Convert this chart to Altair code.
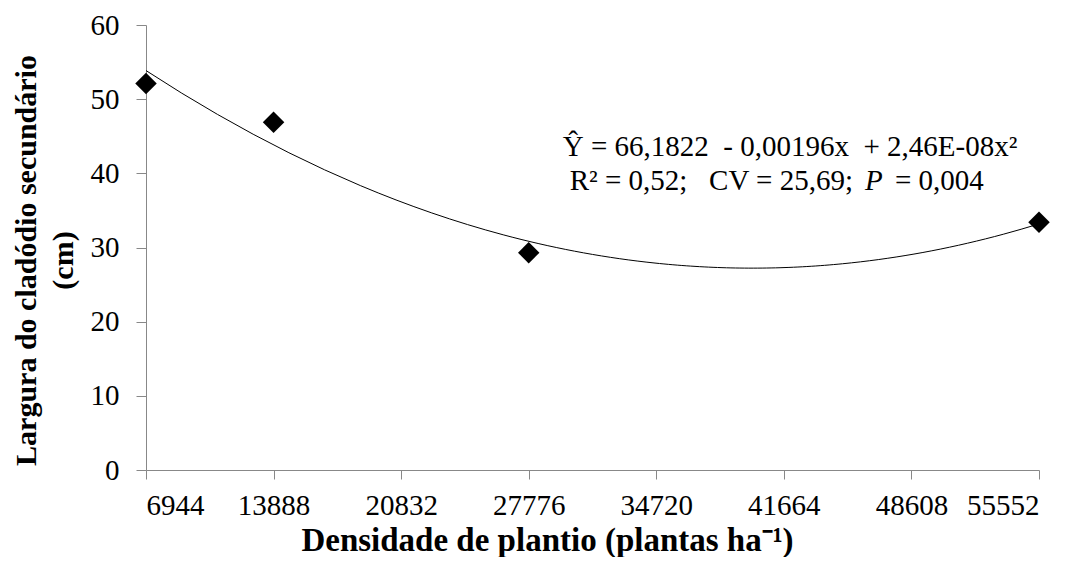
import altair as alt
import pandas as pd

density = [6944, 13888, 27776, 55552]
width_cm = [52.1, 46.9, 29.3, 33.4]
x_ticks = [6944, 13888, 20832, 27776, 34720, 41664, 48608, 55552]
y_ticks = [0, 10, 20, 30, 40, 50, 60]

eq_line1 = "Ŷ = 66,1822\u00a0 - 0,00196x\u00a0 + 2,46E-08x²"
eq_line2a = "R² =\u00a00,52;\u00a0\u00a0 CV =\u00a025,69;"
eq_line2b = "P"
eq_line2c = "= 0,004"
eq_x1 = 42000
eq_xP = 46081
eq_y1 = 43.5
eq_y2 = 38.95

FONT = "Liberation Serif"
GRAY = "#888888"

df = pd.DataFrame({"x": density, "y": width_cm})

x_enc = alt.X("x:Q",
              scale=alt.Scale(domain=[6944, 55552], nice=False, zero=False),
              axis=alt.Axis(values=x_ticks, format="d",
                            title="Densidade de plantio (plantas ha⁻¹)",
                            titleX=401, titleY=80, titleBaseline="alphabetic",
                            titleAlign="center"))
y_enc = alt.Y("y:Q",
              scale=alt.Scale(domain=[0, 60], nice=False),
              axis=alt.Axis(values=y_ticks,
                            title=["Largura do cladódio secundário", "(cm)"],
                            titleY=235, titleAlign="center"))

points = alt.Chart(df).mark_point(shape="diamond", filled=True, size=460,
                                  color="black", opacity=1).encode(x=x_enc, y=y_enc)

curve = alt.Chart(df).transform_regression(
    "x", "y", method="poly", order=2
).mark_line(color="black", strokeWidth=1).encode(x="x:Q", y="y:Q")

ann = pd.DataFrame({"x1": [eq_x1], "xp": [eq_xP], "y1": [eq_y1], "y2": [eq_y2]})
FS = 29
t1 = alt.Chart(ann).mark_text(font=FONT, fontSize=FS, align="center",
                              baseline="middle", color="black").encode(
    x="x1:Q", y="y1:Q", text=alt.value(eq_line1))
t2a = alt.Chart(ann).mark_text(font=FONT, fontSize=FS, align="right",
                               baseline="middle", color="black", dx=-12).encode(
    x="xp:Q", y="y2:Q", text=alt.value(eq_line2a))
t2b = alt.Chart(ann).mark_text(font=FONT, fontSize=FS, align="left",
                               baseline="middle", color="black", fontStyle="italic").encode(
    x="xp:Q", y="y2:Q", text=alt.value(eq_line2b))
t2c = alt.Chart(ann).mark_text(font=FONT, fontSize=FS, align="left",
                               baseline="middle", color="black", dx=30).encode(
    x="xp:Q", y="y2:Q", text=alt.value(eq_line2c))

chart = alt.layer(curve, points, t1, t2a, t2b, t2c).properties(
    width=893, height=445,
    autosize=alt.AutoSizeParams(type="none"),
    padding={"left": 138, "top": 17, "right": 34, "bottom": 87},
).configure_view(stroke=None).configure_axis(
    grid=False,
    domainColor=GRAY, tickColor=GRAY, domainWidth=1, tickWidth=1,
    labelFont=FONT, labelFontSize=29, labelColor="black",
    titleFont=FONT, titleFontWeight="bold", titleColor="black",
).configure_axisX(
    tickSize=9, labelPadding=12, titleFontSize=33,
).configure_axisY(
    tickSize=10, labelPadding=17, titlePadding=12, titleFontSize=30,
    titleLineHeight=37,
)

chart.save("out.html", embed_options={"renderer": "svg", "actions": False})
